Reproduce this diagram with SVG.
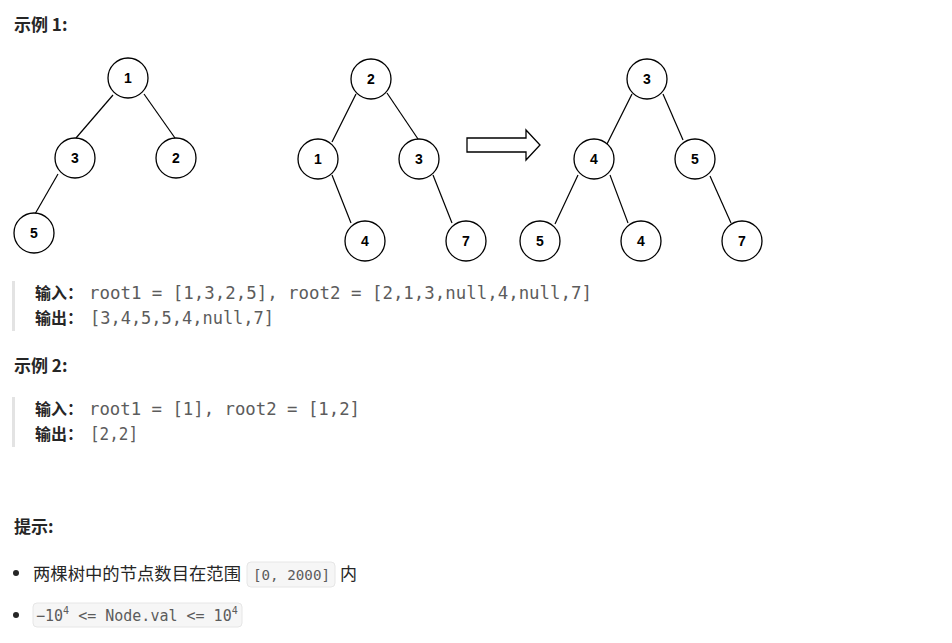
<svg xmlns="http://www.w3.org/2000/svg" width="952" height="643" viewBox="0 0 952 643">
<style>
.bg{fill:#ffffff}
.node circle{fill:#ffffff;stroke:#000000;stroke-width:1.3}
.node text{font-family:"Liberation Sans",Arial,sans-serif;font-weight:bold;font-size:14px;fill:#000000;text-anchor:middle;dominant-baseline:central}
.edges line{stroke:#000000;stroke-width:1.2}
.h{font-family:"Noto Sans CJK SC","Liberation Sans",sans-serif;font-weight:bold;font-size:17px;fill:#262626}
.lab{font-family:"Noto Sans CJK SC",sans-serif;font-weight:bold;font-size:16px;fill:#262626}
.mono{font-family:"DejaVu Sans Mono","Liberation Mono",monospace;font-size:17px;fill:#5c5c5c}
.txt{font-family:"Noto Sans CJK SC",sans-serif;font-size:17px;fill:#262626}
.code{font-family:"DejaVu Sans Mono","Liberation Mono",monospace;font-size:14px;fill:#5c5c5c}
.code2{font-family:"DejaVu Sans Mono","Liberation Mono",monospace;font-size:15px;fill:#5c5c5c}
.sup{font-size:10px}
.codebox{fill:#f6f6f6;stroke:#e6e6e6;stroke-width:1}
.bar{fill:#e3e3e3}
.bullet{fill:#262626}
</style>
<rect class="bg" x="0" y="0" width="952" height="643"/>

<text class="h" x="14" y="31">示例 1:</text>

<g class="edges">
<line x1="113" y1="95" x2="76" y2="138"/>
<line x1="144" y1="94" x2="175" y2="138"/>
<line x1="58" y1="174" x2="35" y2="214"/>
<line x1="356" y1="94" x2="332" y2="142"/>
<line x1="387" y1="93" x2="418" y2="139"/>
<line x1="332" y1="175" x2="351" y2="223"/>
<line x1="433" y1="175" x2="452" y2="223"/>
<line x1="632" y1="94" x2="607" y2="144"/>
<line x1="663" y1="94" x2="683" y2="140"/>
<line x1="578" y1="175" x2="555" y2="224"/>
<line x1="610" y1="175" x2="628" y2="223"/>
<line x1="710" y1="176" x2="731" y2="223"/>
</g>

<g id="t1n1" class="node"><circle cx="128" cy="78" r="20"/><text x="128" y="78">1</text></g>
<g id="t1n3" class="node"><circle cx="75" cy="158" r="20"/><text x="75" y="158">3</text></g>
<g id="t1n2" class="node"><circle cx="176" cy="158" r="20"/><text x="176" y="158">2</text></g>
<g id="t1n5" class="node"><circle cx="34" cy="233" r="20"/><text x="34" y="233">5</text></g>

<g id="t2n2" class="node"><circle cx="371" cy="79" r="20"/><text x="371" y="79">2</text></g>
<g id="t2n1" class="node"><circle cx="318" cy="159" r="20"/><text x="318" y="159">1</text></g>
<g id="t2n3" class="node"><circle cx="419" cy="159" r="20"/><text x="419" y="159">3</text></g>
<g id="t2n4" class="node"><circle cx="365" cy="241" r="20"/><text x="365" y="241">4</text></g>
<g id="t2n7" class="node"><circle cx="466" cy="241" r="20"/><text x="466" y="241">7</text></g>

<g id="arrow"><path d="M467 138 L526 138 L526 130 L540 145 L526 160 L526 152 L467 152 Z" fill="#ffffff" stroke="#000000" stroke-width="1.3"/></g>

<g id="t3n3" class="node"><circle cx="647" cy="79" r="20"/><text x="647" y="79">3</text></g>
<g id="t3n4" class="node"><circle cx="594" cy="159" r="20"/><text x="594" y="159">4</text></g>
<g id="t3n5" class="node"><circle cx="695" cy="159" r="20"/><text x="695" y="159">5</text></g>
<g id="t3n5b" class="node"><circle cx="540" cy="241" r="20"/><text x="540" y="241">5</text></g>
<g id="t3n4b" class="node"><circle cx="641" cy="241" r="20"/><text x="641" y="241">4</text></g>
<g id="t3n7" class="node"><circle cx="742" cy="241" r="20"/><text x="742" y="241">7</text></g>

<rect class="bar" x="12" y="281" width="3" height="50"/>
<text class="lab" x="35" y="299">输入：</text>
<text class="mono" x="89" y="299" textLength="503" lengthAdjust="spacingAndGlyphs">root1 = [1,3,2,5], root2 = [2,1,3,null,4,null,7]</text>
<text class="lab" x="35" y="324">输出：</text>
<text class="mono" x="90" y="324" textLength="184" lengthAdjust="spacingAndGlyphs">[3,4,5,5,4,null,7]</text>

<text class="h" x="14" y="372">示例 2:</text>

<rect class="bar" x="12" y="397" width="3" height="50"/>
<text class="lab" x="35" y="415">输入：</text>
<text class="mono" x="89" y="415" textLength="271" lengthAdjust="spacingAndGlyphs">root1 = [1], root2 = [1,2]</text>
<text class="lab" x="35" y="440">输出：</text>
<text class="mono" x="90" y="440" textLength="48" lengthAdjust="spacingAndGlyphs">[2,2]</text>

<text class="h" x="14" y="533">提示:</text>

<circle class="bullet" cx="16" cy="573" r="3"/>
<text class="txt" x="33" y="580" textLength="208" lengthAdjust="spacingAndGlyphs">两棵树中的节点数目在范围</text>
<rect class="codebox" x="247" y="562" width="88" height="25" rx="4"/>
<text class="code" x="253" y="580" textLength="77" lengthAdjust="spacingAndGlyphs">[0, 2000]</text>
<text class="txt" x="340" y="580">内</text>

<circle class="bullet" cx="16" cy="615" r="3"/>
<rect class="codebox" x="33" y="603" width="209" height="24" rx="4"/>
<text class="code2" x="36" y="621">−10<tspan class="sup" dy="-7">4</tspan><tspan dy="7"> &lt;= Node.val &lt;= 10</tspan><tspan class="sup" dy="-7">4</tspan></text>
</svg>
